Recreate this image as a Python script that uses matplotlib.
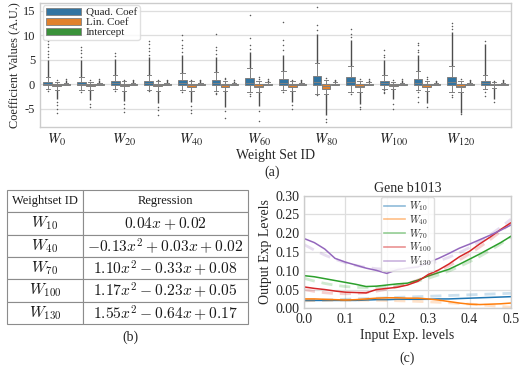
import numpy as np
import matplotlib
matplotlib.use("Agg")
import matplotlib.pyplot as plt
from matplotlib.patches import Patch
from matplotlib.lines import Line2D

# ---------------- (a) coefficient distributions per weight set ----------------
weight_sets = [0, 10, 20, 30, 40, 50, 60, 70, 80, 90, 100, 110, 120, 130]

quad_q1 = [-0.10, -0.10, -0.10, -0.10, -0.10, -0.20, -0.20, -0.10, -0.10, -0.10, -0.10, -0.10, -0.10, -0.10]
quad_med = [0.15, 0.15, 0.20, 0.20, 0.25, 0.25, 0.35, 0.30, 0.45, 0.40, 0.20, 0.30, 0.40, 0.20]
quad_q3 = [0.57, 0.57, 0.78, 0.70, 0.90, 0.90, 1.25, 1.05, 1.70, 1.45, 0.70, 1.05, 1.45, 0.70]
quad_lo = [-1.0, -1.1, -1.0, -1.1, -1.2, -1.4, -1.6, -1.2, -1.9, -1.6, -0.9, -1.2, -1.6, -1.0]
quad_hi = [1.6, 1.6, 2.0, 1.9, 2.4, 2.5, 3.4, 2.8, 4.4, 3.8, 1.9, 2.8, 3.8, 1.9]
quad_dense_hi = [5.0, 5.0, 5.2, 5.5, 6.0, 5.5, 6.6, 5.9, 10.3, 9.0, 4.9, 5.9, 10.7, 8.3]
quad_fliers = [
    [5.6, 6.2, 6.8, 7.5, 8.2, 8.8, -1.4],
    [5.6, 6.3, 7.0, 7.6, -1.5],
    [5.8, 6.4, -1.3],
    [6.0, 6.7, 7.4, 8.2, 8.9, -1.4],
    [6.6, 7.3, 8.0, 9.0, 10.0, -1.5],
    [6.2, 7.0, 7.5, 10.2, -1.7, -2.0],
    [7.2, 8.0, 9.5, 14.2, -2.0, -2.3],
    [7.0, 8.1, 9.0, 12.6, -1.5],
    [11.0, 12.0, 15.8, -2.2],
    [9.6, 10.2, 11.2, -2.0],
    [5.5, 6.0, 6.9, -1.2, -1.5, -1.8],
    [6.5, 7.0, 8.0, 8.4, -1.6, -2.5, -3.6],
    [11.3, 11.9, 12.5, -2.2, -2.6],
    [8.8, -1.5, -2.4],
]

lin_q1 = [-0.35, -0.35, -0.40, -0.40, -0.45, -0.45, -0.60, -0.45, -0.85, -0.55, -0.25, -0.45, -0.60, -0.20]
lin_med = [-0.15, -0.15, -0.15, -0.15, -0.20, -0.20, -0.25, -0.20, -0.35, -0.25, -0.10, -0.20, -0.25, -0.08]
lin_q3 = [0.05, 0.05, 0.05, 0.05, 0.05, 0.05, 0.05, 0.05, 0.00, 0.05, 0.05, 0.05, 0.05, 0.05]
lin_lo = [-1.2, -1.2, -1.3, -1.3, -1.4, -1.4, -1.6, -1.4, -2.0, -1.6, -0.9, -1.4, -1.6, -0.8]
lin_hi = [0.5, 0.5, 0.6, 0.6, 0.6, 0.6, 0.7, 0.6, 0.8, 0.7, 0.5, 0.6, 0.7, 0.4]
lin_dense_lo = [-3.0, -3.2, -3.3, -3.8, -3.6, -4.5, -4.3, -3.5, -6.3, -4.0, -3.0, -3.8, -5.8, -3.0]
lin_fliers = [
    [-3.6, -4.2, -5.0, -5.8, 0.8],
    [-3.9, -4.6, 0.8],
    [-4.0, -4.8, -5.6, 0.9],
    [-4.5, -5.3, -6.2, 0.9],
    [-4.3, -5.2, -5.9, 0.8],
    [-5.5, -6.8, 1.0, 1.3],
    [-5.5, -7.4, 1.1, 1.5],
    [-4.2, -5.0, 0.9],
    [-7.0, -7.7, 1.2],
    [-4.6, -5.0, 1.0],
    [-4.0, -5.0, 0.8],
    [-4.5, 1.0, 1.6],
    [-6.1, 1.0],
    [-3.5, 0.6],
]

icpt_q1 = [-0.05] * 14
icpt_med = [0.03] * 14
icpt_q3 = [0.12, 0.12, 0.12, 0.12, 0.12, 0.12, 0.14, 0.12, 0.15, 0.14, 0.12, 0.12, 0.12, 0.12]
icpt_lo = [-0.2] * 14
icpt_hi = [0.35, 0.35, 0.35, 0.35, 0.35, 0.35, 0.4, 0.35, 0.4, 0.4, 0.35, 0.35, 0.35, 0.35]
icpt_dense_hi = [0.9, 0.9, 0.8, 0.8, 0.8, 0.7, 0.9, 0.8, 0.8, 0.9, 0.9, 0.6, 0.8, 0.8]
icpt_fliers = [[1.0], [1.0], [0.9], [0.9], [0.9], [0.8], [1.0], [0.9], [0.9], [1.0], [1.0], [0.7], [0.9], [0.9]]

coef_names = ["Quad. Coef", "Lin. Coef", "Intercept"]
coef_colors = ["#3274a1", "#e1812c", "#3a923a"]

# ---------------- (b) regression table ----------------
table_ids = [10, 40, 70, 100, 130]
reg_quad = [0.00, -0.13, 1.10, 1.17, 1.55]
reg_lin = [0.04, 0.03, -0.33, -0.23, -0.64]
reg_icpt = [0.02, 0.02, 0.08, 0.05, 0.17]

# ---------------- (c) gene b1013 response ----------------
x_in = [0.0, 0.025, 0.05, 0.075, 0.1, 0.125, 0.15, 0.175, 0.2, 0.225, 0.25,
        0.275, 0.3, 0.325, 0.35, 0.375, 0.4, 0.425, 0.45, 0.475, 0.5]
y_w10 = [0.021, 0.021, 0.021, 0.021, 0.021, 0.021, 0.022, 0.023, 0.023, 0.024, 0.024,
         0.024, 0.024, 0.025, 0.025, 0.026, 0.027, 0.028, 0.029, 0.030, 0.031]
y_w40 = [0.025, 0.025, 0.024, 0.023, 0.022, 0.023, 0.025, 0.027, 0.028, 0.028, 0.027,
         0.027, 0.025, 0.022, 0.018, 0.014, 0.011, 0.010, 0.011, 0.012, 0.014]
y_w70 = [0.087, 0.084, 0.079, 0.074, 0.069, 0.064, 0.058, 0.059, 0.062, 0.065, 0.067,
         0.075, 0.086, 0.095, 0.104, 0.117, 0.131, 0.145, 0.160, 0.175, 0.192]
y_w100 = [0.057, 0.053, 0.050, 0.046, 0.043, 0.042, 0.041, 0.050, 0.053, 0.056, 0.062,
          0.072, 0.090, 0.102, 0.118, 0.137, 0.152, 0.172, 0.190, 0.210, 0.228]
y_w130 = [0.186, 0.175, 0.158, 0.133, 0.123, 0.115, 0.107, 0.101, 0.093, 0.103, 0.107,
          0.110, 0.122, 0.133, 0.146, 0.160, 0.171, 0.183, 0.195, 0.208, 0.222]
line_colors = ["#1f77b4", "#ff7f0e", "#2ca02c", "#d62728", "#9467bd"]


def poly_label(a, b, c):
    s = ""
    if a != 0:
        s = f"{a:.2f}x^2"
    if s:
        s += f" {'-' if b < 0 else '+'} {abs(b):.2f}x"
    else:
        s = f"{b:.2f}x"
    s += f" {'-' if c < 0 else '+'} {abs(c):.2f}"
    return "$" + s + "$"


plt.rcParams.update({
    "font.family": "serif",
    "font.serif": ["Liberation Serif", "DejaVu Serif"],
    "mathtext.fontset": "stix",
    "axes.edgecolor": "0.8",
    "axes.linewidth": 1.0,
    "grid.color": "0.87",
    "grid.linewidth": 0.9,
    "xtick.color": "0.15",
    "ytick.color": "0.15",
    "text.color": "0.15",
    "axes.labelcolor": "0.15",
    "xtick.major.size": 0,
    "ytick.major.size": 0,
})

W, H = 521, 368
fig = plt.figure(figsize=(W / 100, H / 100), dpi=100)


def px_axes(left, top, right, bottom):
    return fig.add_axes([left / W, 1 - bottom / H, (right - left) / W, (bottom - top) / H])


# ---- (a)
ax_a = px_axes(40, 2.7, 511, 126.7)
pos = np.arange(len(weight_sets))
box_w = 0.8 / 3
groups = [
    (quad_q1, quad_med, quad_q3, quad_lo, quad_hi, quad_fliers),
    (lin_q1, lin_med, lin_q3, lin_lo, lin_hi, lin_fliers),
    (icpt_q1, icpt_med, icpt_q3, icpt_lo, icpt_hi, icpt_fliers),
]
for k, (q1, med, q3, lo, hi, fl) in enumerate(groups):
    stats = [dict(q1=a, med=m, q3=b, whislo=l, whishi=h, fliers=f)
             for a, m, b, l, h, f in zip(q1, med, q3, lo, hi, fl)]
    offs = pos + (k - 1) * box_w
    ax_a.bxp(stats, positions=offs, widths=box_w * 0.98, patch_artist=True,
             capwidths=box_w * 0.5,
             boxprops=dict(facecolor=coef_colors[k], edgecolor="0.5", linewidth=0.7),
             whiskerprops=dict(color="0.5", linewidth=0.7),
             capprops=dict(color="0.5", linewidth=0.7),
             medianprops=dict(color="0.5", linewidth=0.7),
             flierprops=dict(marker="o", markersize=1.1, markerfacecolor="0.35",
                             markeredgecolor="none"))
    if k == 0:
        ax_a.vlines(offs, quad_hi, quad_dense_hi, colors="0.3", linewidth=1.0, zorder=1)
    elif k == 1:
        ax_a.vlines(offs, lin_dense_lo, lin_lo, colors="0.3", linewidth=1.0, zorder=1)
    else:
        ax_a.vlines(offs, icpt_hi, icpt_dense_hi, colors="0.3", linewidth=1.0, zorder=1)

ax_a.set_xlim(-0.5, len(weight_sets) - 0.5)
ax_a.set_ylim(-8.6, 16.6)
ax_a.set_yticks([-5, 0, 5, 10, 15])
ax_a.set_yticklabels(["-5", "0", "5", "10", "15"], fontsize=9)
ax_a.set_xticks(pos[::2])
ax_a.set_xticklabels([rf"$W_{{{w}}}$" for w in weight_sets[::2]], fontsize=10.5)
ax_a.grid(True, axis="y")
ax_a.set_axisbelow(True)
ax_a.set_ylabel("Coefficient Values (A.U.)", fontsize=8.8, labelpad=2)
ax_a.set_xlabel("Weight Set ID", fontsize=10, labelpad=1)
ax_a.legend(handles=[Patch(facecolor=c, edgecolor="0.5", linewidth=0.6, label=n)
                     for c, n in zip(coef_colors, coef_names)],
            loc="upper left", fontsize=8, handlelength=3.2, handleheight=0.55,
            labelspacing=0.05, borderpad=0.25, handletextpad=0.4,
            borderaxespad=0.25, framealpha=0.8, edgecolor="0.85")
fig.text(272 / W, 1 - 172 / H, "(a)", ha="center", va="center", fontsize=10)

# ---- (b)
ax_b = px_axes(7, 190, 248, 324)
ax_b.axis("off")
cell_text = [[rf"$W_{{{w}}}$", poly_label(a, b, c)]
             for w, a, b, c in zip(table_ids, reg_quad, reg_lin, reg_icpt)]
tbl = ax_b.table(cellText=cell_text, colLabels=["Weightset ID", "Regression"],
                 colWidths=[76 / 241, 165 / 241], cellLoc="center", bbox=[0, 0, 1, 1])
tbl.auto_set_font_size(False)
for (r, c), cell in tbl.get_celld().items():
    cell.set_edgecolor("0.55")
    cell.set_linewidth(0.8)
    t = cell.get_text()
    t.set_color("0.1")
    if r == 0:
        t.set_fontsize(9)
    else:
        t.set_fontsize(11.2)
        t.set_math_fontfamily("cm")
fig.text(130 / W, 1 - 337 / H, "(b)", ha="center", va="center", fontsize=10)

# ---- (c)
ax_c = px_axes(304, 195.7, 511, 308.3)
series = [y_w10, y_w40, y_w70, y_w100, y_w130]
xs = np.array(x_in)
handles = []
for w, ys, col, a, b, c in zip(table_ids, series, line_colors, reg_quad, reg_lin, reg_icpt):
    ax_c.plot(xs, np.polyval([a, b, c], xs), color=col, lw=2.0, alpha=0.22,
              dashes=(4, 2.5))
    ax_c.plot(xs, ys, color=col, lw=1.1)
    handles.append(Line2D([], [], color=col, lw=1.2, alpha=0.5, label=rf"$W_{{{w}}}$"))
ax_c.set_xlim(0, 0.5)
ax_c.set_ylim(0, 0.3)
ax_c.set_xticks([0.0, 0.1, 0.2, 0.3, 0.4, 0.5])
ax_c.set_yticks([0.0, 0.05, 0.1, 0.15, 0.2, 0.25, 0.3])
ax_c.set_xticklabels(["0.0", "0.1", "0.2", "0.3", "0.4", "0.5"], fontsize=10)
ax_c.set_yticklabels(["0.00", "0.05", "0.10", "0.15", "0.20", "0.25", "0.30"], fontsize=10)
ax_c.grid(True)
ax_c.set_axisbelow(True)
ax_c.set_title("Gene b1013", fontsize=10, pad=3)
ax_c.set_ylabel("Output Exp Levels", fontsize=10, labelpad=2)
ax_c.set_xlabel("Input Exp. levels", fontsize=10, labelpad=2)
leg = ax_c.legend(handles=handles, loc="upper center", fontsize=7.5, handlelength=2.0,
                  labelspacing=0.0, borderpad=0.25, handletextpad=0.4,
                  borderaxespad=0.1, framealpha=0.85, edgecolor="0.85")
for t in leg.get_texts():
    t.set_math_fontfamily("cm")
fig.text(407 / W, 1 - 358 / H, "(c)", ha="center", va="center", fontsize=10)

fig.savefig("out.png", dpi=100)
